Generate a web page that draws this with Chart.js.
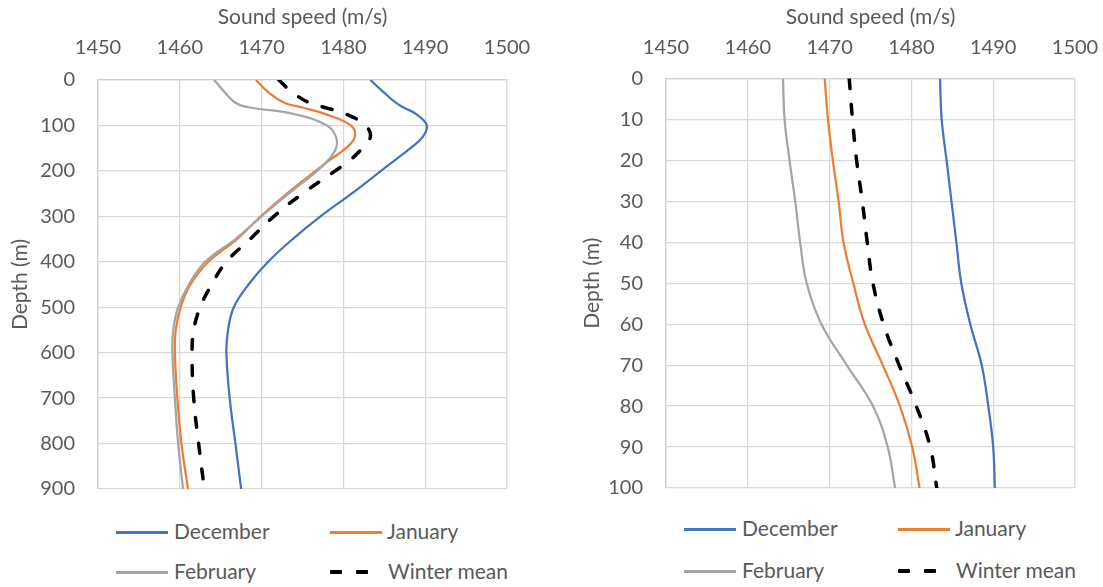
<!DOCTYPE html>
<html>
<head>
<meta charset="utf-8">
<script src="https://cdn.jsdelivr.net/npm/chart.js@4.4.1/dist/chart.umd.min.js"></script>
<style>
  body { margin: 0; background: #fff; overflow: hidden; }
  #wrap { position: relative; width: 1103px; height: 587px; overflow: hidden; font-family: Lato, sans-serif; }
  .box { position: absolute; top: 0; height: 500px; }
  .lg-line { position: absolute; height: 3px; width: 52px; }
  .lg-dash { position: absolute; height: 4px; width: 12px; background: #000; border-radius: 1px; }
  .lg-text { position: absolute; font-size: 21px; color: #595959; line-height: 30px; white-space: nowrap; }
</style>
</head>
<body>
<div id="wrap">
  <div class="box" style="left:0; width:574px;"><canvas id="deepChart"></canvas></div>
  <div class="box" style="left:575px; width:528px;"><canvas id="shallowChart"></canvas></div>
  <div id="deepLegend"></div>
  <div id="shallowLegend"></div>
</div>

<script>
// axis ticks
const speedTicks = [1450, 1460, 1470, 1480, 1490, 1500];
const deepTicks = [0, 100, 200, 300, 400, 500, 600, 700, 800, 900];
const shallowTicks = [0, 10, 20, 30, 40, 50, 60, 70, 80, 90, 100];

const seriesNames = ["December", "January", "February", "Winter mean"];

// full profile, 0 - 900 m
const deepDepths = [0, 25, 50, 60, 75, 100, 125, 150, 175, 200, 250, 300, 350, 400, 450, 500, 550, 600, 700, 800, 900];
const deepDec = [1483.3, 1484.8, 1486.4, 1487.3, 1488.9, 1490.2, 1489.7, 1488.2, 1486.4, 1484.6, 1481.0, 1477.2, 1473.8, 1470.8, 1468.4, 1466.6, 1465.9, 1465.7, 1466.1, 1466.8, 1467.5];
const deepJan = [1469.3, 1470.7, 1472.8, 1474.9, 1477.8, 1480.9, 1481.4, 1480.3, 1478.4, 1476.6, 1473.1, 1469.9, 1467.0, 1463.5, 1461.3, 1460.1, 1459.5, 1459.4, 1459.7, 1460.2, 1461.0];
const deepFeb = [1464.2, 1465.4, 1466.8, 1468.4, 1474.0, 1478.0, 1479.1, 1479.1, 1478.2, 1476.8, 1473.3, 1470.0, 1466.8, 1463.1, 1461.1, 1459.8, 1459.2, 1459.1, 1459.4, 1459.8, 1460.4];
const deepMean = [1472.1, 1473.6, 1475.8, 1477.6, 1480.3, 1482.7, 1483.3, 1482.3, 1480.9, 1479.0, 1475.0, 1471.5, 1468.6, 1465.7, 1463.9, 1462.5, 1461.7, 1461.5, 1461.7, 1462.3, 1463.0];

// upper 100 m
const shallowDepths = [0, 10, 20, 30, 40, 50, 60, 70, 80, 90, 100];
const shallowDec = [1483.5, 1483.7, 1484.3, 1484.9, 1485.5, 1486.1, 1487.2, 1488.6, 1489.4, 1490.0, 1490.2];
const shallowJan = [1469.4, 1469.8, 1470.4, 1471.1, 1471.7, 1472.9, 1474.3, 1476.5, 1478.6, 1480.1, 1481.0];
const shallowFeb = [1464.3, 1464.5, 1465.1, 1465.8, 1466.4, 1467.2, 1469.0, 1472.1, 1475.3, 1477.1, 1478.0];
const shallowMean = [1472.4, 1472.8, 1473.3, 1474.0, 1474.6, 1475.3, 1476.6, 1478.5, 1480.6, 1482.3, 1483.1];

Chart.defaults.font.family = "Lato, sans-serif";
Chart.defaults.color = "#595959";

const lineStyles = [
  { color: "#4472C4", width: 2.25, dash: [] },
  { color: "#ED7D31", width: 2.25, dash: [] },
  { color: "#A5A5A5", width: 2.25, dash: [] },
  { color: "#000000", width: 3.5, dash: [10, 16] }
];

// no extra room for end labels, the plot box is placed by hand
function noAutoPad(s) {
  s.paddingLeft = 0;
  s.paddingRight = 0;
  s.paddingTop = 0;
  s.paddingBottom = 0;
}

function makeDatasets(depths, seriesList) {
  return seriesList.map((vals, i) => ({
    label: seriesNames[i],
    data: vals.map((v, k) => ({ x: v, y: depths[k] })),
    showLine: true,
    borderColor: lineStyles[i].color,
    backgroundColor: lineStyles[i].color,
    borderWidth: lineStyles[i].width,
    borderDash: lineStyles[i].dash,
    borderCapStyle: i === 3 ? "round" : "butt",
    pointRadius: 0,
    tension: 0.4,
    order: 3 - i   // later series on top, like Excel
  }));
}

function makeChart(canvasId, depths, seriesList, depthTicks, lay) {
  return new Chart(document.getElementById(canvasId), {
    type: "scatter",
    data: { datasets: makeDatasets(depths, seriesList) },
    options: {
      responsive: true,
      maintainAspectRatio: false,
      animation: false,
      layout: { autoPadding: false, padding: { left: 0, top: 0, right: lay.padRight, bottom: lay.padBottom } },
      plugins: {
        legend: { display: false },
        tooltip: { enabled: false }
      },
      scales: {
        x: {
          type: "linear",
          position: "top",
          min: speedTicks[0],
          max: speedTicks[speedTicks.length - 1],
          ticks: {
            stepSize: speedTicks[1] - speedTicks[0],
            format: { useGrouping: false },
            font: { size: 20 }, padding: lay.xPad, color: "#595959"
          },
          grid: { color: "#d9d9d9", lineWidth: 1.3, drawTicks: false },
          border: { color: "#d0d0d0", width: 1.3 },
          title: { display: true, text: "Sound speed (m/s)", font: { size: 21 }, color: "#595959", padding: { top: 4.4, bottom: 0 } },
          afterFit: (s) => { s.height = lay.xHeight; noAutoPad(s); }
        },
        y: {
          type: "linear",
          reverse: true,
          min: depthTicks[0],
          max: depthTicks[depthTicks.length - 1],
          ticks: { stepSize: depthTicks[1] - depthTicks[0], font: { size: 20 }, padding: lay.yPad, color: "#595959" },
          grid: { color: "#d9d9d9", lineWidth: 1.3, drawTicks: false },
          border: { color: "#d0d0d0", width: 1.3 },
          title: { display: true, text: "Depth (m)", font: { size: 21 }, color: "#595959", padding: { top: lay.yTitlePad, bottom: 0 } },
          afterFit: (s) => { s.width = lay.yWidth; noAutoPad(s); }
        }
      }
    }
  });
}

makeChart("deepChart", deepDepths, [deepDec, deepJan, deepFeb, deepMean], deepTicks,
  { padRight: 67, padBottom: 11, xHeight: 80, xPad: 20, yWidth: 98, yPad: 23, yTitlePad: 8 });

makeChart("shallowChart", shallowDepths, [shallowDec, shallowJan, shallowFeb, shallowMean], shallowTicks,
  { padRight: 28, padBottom: 12, xHeight: 78.5, xPad: 18.5, yWidth: 91, yPad: 23, yTitlePad: 4.4 });

// html legends, 2 x 2 like the original
function buildLegend(id, cols, rows) {
  const el = document.getElementById(id);
  seriesNames.forEach((name, i) => {
    const c = cols[i % 2], y = rows[Math.floor(i / 2)];
    if (i === 3) {
      el.insertAdjacentHTML("beforeend",
        `<span class="lg-dash" style="left:${c.line}px;top:${y - 2}px"></span>` +
        `<span class="lg-dash" style="left:${c.line + 26}px;top:${y - 2}px"></span>`);
    } else {
      el.insertAdjacentHTML("beforeend",
        `<span class="lg-line" style="left:${c.line}px;top:${y - 1.5}px;background:${lineStyles[i].color}"></span>`);
    }
    const tx = i === 3 ? c.text + 1 : c.text;
    el.insertAdjacentHTML("beforeend",
      `<span class="lg-text" style="left:${tx}px;top:${y - 16}px">${name}</span>`);
  });
}

buildLegend("deepLegend", [{ line: 116, text: 174 }, { line: 330, text: 387 }], [532, 572]);
buildLegend("shallowLegend", [{ line: 684, text: 742 }, { line: 898, text: 955 }], [529, 571]);
</script>
</body>
</html>
